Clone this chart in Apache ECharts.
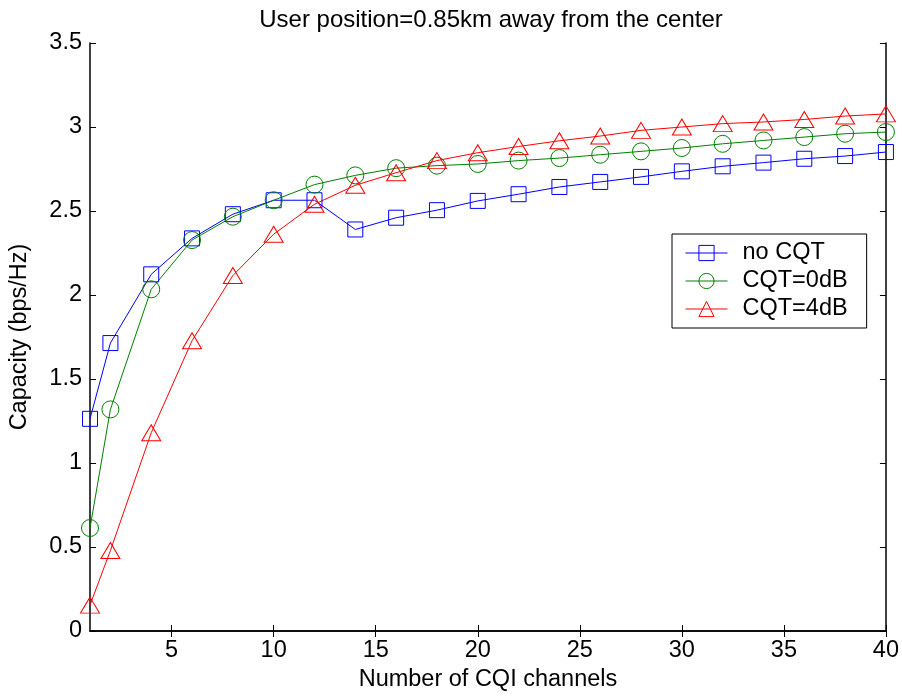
<!DOCTYPE html>
<html>
<head>
<meta charset="utf-8">
<script src="https://cdn.jsdelivr.net/npm/echarts@6/dist/echarts.min.js"></script>
<style>
  html, body { margin: 0; padding: 0; background: #fff; }
  #chart { width: 902px; height: 697px; }
</style>
</head>
<body>
<div id="chart"></div>
<script>
// channel counts (x) and capacity values
var channels = [1, 2, 4, 6, 8, 10, 12, 14, 16, 18, 20, 22, 24, 26, 28, 30, 32, 34, 36, 38, 40];
var noCqt   = [1.263, 1.714, 2.123, 2.337, 2.481, 2.564, 2.564, 2.39, 2.46, 2.505, 2.56, 2.60, 2.643, 2.673, 2.703, 2.736, 2.766, 2.788, 2.811, 2.827, 2.851];
var cqt0dB  = [0.613, 1.319, 2.034, 2.327, 2.466, 2.564, 2.657, 2.712, 2.755, 2.77, 2.78, 2.80, 2.815, 2.835, 2.855, 2.875, 2.90, 2.92, 2.94, 2.96, 2.97];
var cqt4dB  = [0.154, 0.479, 1.18, 1.728, 2.116, 2.362, 2.54, 2.653, 2.728, 2.80, 2.847, 2.884, 2.918, 2.946, 2.98, 3.0, 3.02, 3.03, 3.045, 3.065, 3.078];
var xTicks = [5, 10, 15, 20, 25, 30, 35, 40];

var font = 'Liberation Sans, Arial, sans-serif';
var fs = 23.5;

function pairs(vals) {
  return channels.map(function (c, i) { return [c, vals[i]]; });
}

function lineSeries(name, vals, color, symbol, size) {
  return {
    name: name,
    type: 'line',
    data: pairs(vals),
    symbol: symbol,
    symbolSize: size,
    showAllSymbol: true,
    lineStyle: { color: color, width: 1 },
    itemStyle: { color: 'rgba(255,255,255,0)', borderColor: color, borderWidth: 1 },
    emphasis: { disabled: true },
    animation: false
  };
}

var chart = echarts.init(document.getElementById('chart'));

var axisLine = { show: true, lineStyle: { color: '#000', width: 1.5 } };
var tick = { show: true, inside: true, length: 6, lineStyle: { color: '#000' } };

chart.setOption({
  backgroundColor: '#fff',
  animation: false,
  title: {
    text: 'User position=0.85km away from the center',
    left: 486, top: 3, textAlign: 'center',
    textStyle: { fontFamily: font, fontSize: 24, fontWeight: 'normal', color: '#000' }
  },
  legend: {
    orient: 'vertical',
    left: 672, top: 234,
    padding: [7, 19, 7, 13],
    itemGap: 4,
    itemWidth: 42, itemHeight: 19,
    backgroundColor: '#fff',
    borderColor: '#000', borderWidth: 1,
    lineStyle: { width: 1 },
    itemStyle: { borderWidth: 1 },
    textStyle: { fontFamily: font, fontSize: fs, color: '#000', padding: [0, 0, 0, 10] },
    data: ['no CQT', 'CQT=0dB', 'CQT=4dB']
  },
  grid: { left: 88, right: 16, top: 43, bottom: 63 },
  xAxis: [
    {
      type: 'value', min: 1, max: 40,
      name: 'Number of CQI channels',
      nameLocation: 'middle', nameGap: 37,
      nameTextStyle: { fontFamily: font, fontSize: fs, color: '#000' },
      axisLine: axisLine,
      axisTick: Object.assign({ customValues: xTicks }, tick),
      axisLabel: { customValues: xTicks, fontFamily: font, fontSize: fs, color: '#000', margin: 8 },
      splitLine: { show: false }
    },
    {
      type: 'value', min: 1, max: 40, position: 'top',
      axisLine: axisLine,
      axisTick: Object.assign({ customValues: xTicks }, tick),
      axisLabel: { show: false },
      splitLine: { show: false }
    }
  ],
  yAxis: [
    {
      type: 'value', min: 0, max: 3.5, interval: 0.5,
      name: 'Capacity (bps/Hz)',
      nameLocation: 'middle', nameGap: 58,
      nameTextStyle: { fontFamily: font, fontSize: fs, color: '#000' },
      axisLine: axisLine,
      axisTick: tick,
      axisLabel: { fontFamily: font, fontSize: fs, color: '#000', margin: 8 },
      splitLine: { show: false }
    },
    {
      type: 'value', min: 0, max: 3.5, interval: 0.5, position: 'right',
      axisLine: axisLine,
      axisTick: tick,
      axisLabel: { show: false },
      splitLine: { show: false }
    }
  ],
  series: [
    lineSeries('no CQT', noCqt, '#0000ff', 'rect', 15),
    lineSeries('CQT=0dB', cqt0dB, '#008000', 'circle', 17),
    lineSeries('CQT=4dB', cqt4dB, '#ff0000', 'triangle', [19, 16])
  ]
});
</script>
</body>
</html>
